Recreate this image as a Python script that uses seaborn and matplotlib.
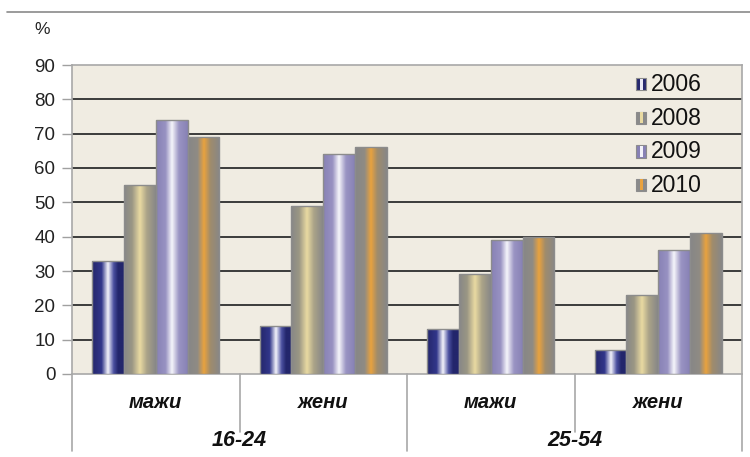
import numpy as np
import pandas as pd
import seaborn as sns
import matplotlib
matplotlib.use("Agg")
import matplotlib.pyplot as plt
from matplotlib.patches import Rectangle
from matplotlib.lines import Line2D
from matplotlib.colors import to_rgb

# ---------------- data ----------------
groups = ["16-24", "16-24", "25-54", "25-54"]
sexes = ["мажи", "жени", "мажи", "жени"]
years = ["2006", "2008", "2009", "2010"]
v2006 = [33, 14, 13, 7]
v2008 = [55, 49, 29, 23]
v2009 = [74, 64, 39, 36]
v2010 = [69, 66, 40, 41]
group_labels = ["16-24", "25-54"]
yticks = [0, 10, 20, 30, 40, 50, 60, 70, 80, 90]

keys = [f"{g} {s}" for g, s in zip(groups, sexes)]
rows = []
for yr, vals in zip(years, [v2006, v2008, v2009, v2010]):
    for k, v in zip(keys, vals):
        rows.append({"cat": k, "year": yr, "value": v})
df = pd.DataFrame(rows)

# gradient stops per series (position, colour)
grad_stops = {
    "2006": [(0.0, "#25276c"), (0.3, "#31368a"), (0.5, "#f4f4fb"), (0.68, "#4b50a0"), (0.82, "#23266c"), (1.0, "#23266c")],
    "2008": [(0.0, "#878787"), (0.25, "#9a9684"), (0.5, "#e9daa2"), (0.72, "#aaa388"), (1.0, "#878787")],
    "2009": [(0.0, "#8781b5"), (0.3, "#9892c2"), (0.5, "#f6f6fb"), (0.72, "#9a94c3"), (1.0, "#8781b5")],
    "2010": [(0.0, "#878787"), (0.3, "#8f8b84"), (0.5, "#e9a23e"), (0.7, "#a08c6c"), (1.0, "#878787")],
}
legend_cols = {
    "2006": ("#27296f", "#e8e8f6"),
    "2008": ("#8a8a8a", "#e9daa2"),
    "2009": ("#8781b5", "#f2f2fa"),
    "2010": ("#8a8a8a", "#e9a23e"),
}


def make_grad(stops, n=128):
    pos = np.array([p for p, _ in stops])
    cols = np.array([to_rgb(c) for _, c in stops])
    xs = np.linspace(0, 1, n)
    arr = np.stack([np.interp(xs, pos, cols[:, i]) for i in range(3)], axis=1)
    return arr[np.newaxis, :, :]


# ---------------- figure ----------------
sns.set_theme(style="white")
plt.rcParams["font.family"] = ["Liberation Sans", "DejaVu Sans"]

fig = plt.figure(figsize=(7.5, 4.57), dpi=100)
ax = fig.add_axes([72 / 750, 1 - 374 / 457, 670 / 750, 309 / 457])
ax.set_facecolor("#f0ece2")

sns.barplot(data=df, x="cat", y="value", hue="year", hue_order=years,
            order=keys, width=0.76, ax=ax, legend=False, saturation=1,
            palette=[legend_cols[y][1] for y in years], zorder=3)

for yr, cont in zip(years, ax.containers):
    g = make_grad(grad_stops[yr])
    for bar in cont:
        x0, w, h = bar.get_x(), bar.get_width(), bar.get_height()
        im = ax.imshow(g, extent=[x0, x0 + w, 0, h], aspect="auto",
                       interpolation="bilinear", zorder=2.9)
        im.set_clip_path(bar)
        bar.set_facecolor("none")
        bar.set_edgecolor("#8c8c8c")
        bar.set_linewidth(1.0)
        bar.set_zorder(3.1)

ax.set_xlim(-0.5, 3.5)
ax.set_ylim(0, 90)
ax.set_aspect("auto")
ax.set_yticks(yticks)
ax.set_yticklabels([str(t) for t in yticks], fontsize=13.5, color="#222222")
ax.yaxis.grid(True, color="#2e2e2e", linewidth=1.3, zorder=1)
gls = ax.get_ygridlines()
gls[0].set_visible(False)
gls[-1].set_visible(False)
ax.set_axisbelow(True)
ax.tick_params(axis="y", left=True, length=7, width=1, color="#a0a0a0", pad=5)
ax.set_xticks(range(4))
ax.set_xticklabels(sexes, fontsize=14.5, fontweight="bold", fontstyle="italic", color="#111111")
ax.tick_params(axis="x", bottom=False, length=0, pad=14)
ax.set_xlabel("")
ax.set_ylabel("")
for s in ax.spines.values():
    s.set_color("#a8a8a8")
    s.set_linewidth(1.2)

# category separators below axis
trans = ax.get_xaxis_transform()
for xv, ybot in [(-0.5, -0.25), (0.5, -0.188), (1.5, -0.25), (2.5, -0.188), (3.5, -0.25)]:
    ax.add_line(Line2D([xv, xv], [0, ybot], transform=trans, color="#a8a8a8",
                       linewidth=1.2, clip_on=False))
for xv, lab in zip([0.5, 2.5], group_labels):
    ax.text(xv, -0.214, lab, transform=trans, ha="center", va="center",
            fontsize=15.5, fontweight="bold", fontstyle="italic", color="#111111")


# legend with small striped squares
class Swatch:
    def __init__(self, edge, center):
        self.edge, self.center = edge, center


class SwatchHandler:
    def legend_artist(self, legend, orig, fontsize, handlebox):
        x0, y0 = handlebox.xdescent, handlebox.ydescent
        w, h = handlebox.width, handlebox.height
        y0 = y0 + 2.0
        tr = handlebox.get_transform()
        r1 = Rectangle((x0, y0), w, h, facecolor=orig.edge, edgecolor="#8c8c8c",
                       linewidth=0.8, transform=tr)
        r2 = Rectangle((x0 + w * 0.36, y0 + 0.5), w * 0.28, h - 1, facecolor=orig.center,
                       linewidth=0, transform=tr)
        handlebox.add_artist(r1)
        handlebox.add_artist(r2)
        return r1


handles = [Swatch(*legend_cols[y]) for y in years]
leg = ax.legend(handles, years, handler_map={Swatch: SwatchHandler()},
                loc="upper left", bbox_to_anchor=((627 - 72) / 670, 1.003),
                frameon=False, fontsize=16.5, handlelength=0.45, handleheight=0.45,
                handletextpad=0.18, labelspacing=0.46, borderaxespad=0.0)
for t in leg.get_texts():
    t.set_color("#111111")

# top rule and % label
fig.add_artist(Line2D([7 / 750, 1.0], [1 - 12 / 457, 1 - 12 / 457],
                      transform=fig.transFigure, color="#8a8a8a", linewidth=1.2))
fig.text(42 / 750, 1 - 30 / 457, "%", ha="center", va="center", fontsize=12.5, color="#222222")

fig.savefig("out.png", dpi=100)
